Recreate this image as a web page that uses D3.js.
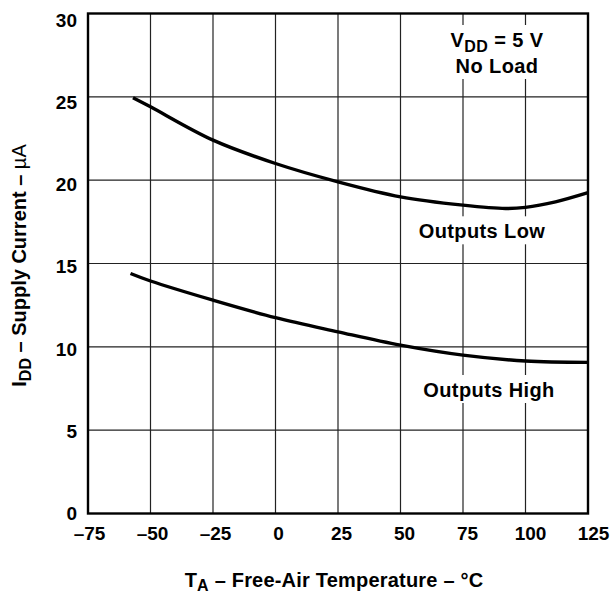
<!DOCTYPE html>
<html>
<head>
<meta charset="utf-8">
<script src="https://cdn.jsdelivr.net/npm/d3@7"></script>
<style>
	html, body { margin: 0; padding: 0; background: #fff; }
	svg { display: block; font-family: 'Liberation Sans', Arial, Helvetica, sans-serif; font-weight: bold; }
</style>
</head>
<body>
<svg width="615" height="596"></svg>
<script>
const tempTicks = [-75, -50, -25, 0, 25, 50, 75, 100, 125];
const currentTicks = [0, 5, 10, 15, 20, 25, 30];

// Outputs Low
const lowTemps = [-57, -50, -25, 0, 25, 50, 75, 92, 100, 112, 125];
const lowCurrent = [24.95, 24.4, 22.4, 21.0, 19.9, 19.0, 18.5, 18.3, 18.37, 18.7, 19.25];

// Outputs High
const highTemps = [-58, -50, -25, 0, 25, 50, 75, 100, 125];
const highCurrent = [14.4, 13.95, 12.8, 11.75, 10.9, 10.1, 9.5, 9.15, 9.07];

const frameColor = '#000';
const gridColor = '#222';
const curveColor = '#000';

const svg = d3.select('svg');
const margin = { top: 13.5, right: 27, bottom: 82.5, left: 88 };
const width = 615 - margin.left - margin.right;
const height = 596 - margin.top - margin.bottom;

const x = d3.scaleLinear().domain([-75, 125]).range([0, width]);
const y = d3.scaleLinear().domain([0, 30]).range([height, 0]);

// tick labels sit on a slightly wider spread than the grid itself
const xLabel = d3.scaleLinear().domain([-75, 125]).range([1, width + 5]);
const yLabel = d3.scaleLinear().domain([0, 30]).range([height, 6.5]);

const g = svg.append('g')
	.attr('transform', `translate(${margin.left},${margin.top})`);

// grid
g.append('g')
	.selectAll('line')
	.data(tempTicks)
	.enter()
		.append('line')
		.attr('x1', d => x(d))
		.attr('x2', d => x(d))
		.attr('y1', 0)
		.attr('y2', height)
		.attr('stroke', gridColor)
		.attr('stroke-width', 1.2);

g.append('g')
	.selectAll('line')
	.data(currentTicks)
	.enter()
		.append('line')
		.attr('x1', 0)
		.attr('x2', width)
		.attr('y1', d => y(d))
		.attr('y2', d => y(d))
		.attr('stroke', gridColor)
		.attr('stroke-width', 1.2);

// labels with white boxes knocking out the grid
const labelGroup = g.append('g');

const addLabel = (lines, cx, baseline, lineGap) => {
	const box = labelGroup.append('g');
	const rect = box.append('rect').attr('fill', '#fff');
	const text = box.append('text')
		.attr('text-anchor', 'middle')
		.attr('font-size', 20)
		.attr('letter-spacing', 0.4)
		.attr('fill', '#000');
	lines.forEach((line, i) => {
		const t = text.append('tspan')
			.attr('x', cx)
			.attr('y', baseline + i * lineGap);
		line.forEach((part) => {
			const s = t.append('tspan').text(part.text);
			if (part.sub) {
				s.attr('font-size', 16).attr('dy', 5);
			} else if (part.after) {
				s.attr('dy', -5);
			}
		});
	});
	const bb = text.node().getBBox();
	rect
		.attr('x', bb.x - 8)
		.attr('y', bb.y - 4)
		.attr('width', bb.width + 16)
		.attr('height', bb.height + 6);
};

addLabel([
	[{ text: 'V' }, { text: 'DD', sub: true }, { text: ' = 5 V', after: true }],
	[{ text: 'No Load' }],
], 409, 33.5, 26);

addLabel([[{ text: 'Outputs Low' }]], 394, 224.8, 0);
addLabel([[{ text: 'Outputs High' }]], 401, 383.5, 0);

// curves
const line = d3.line()
	.x(d => x(d[0]))
	.y(d => y(d[1]))
	.curve(d3.curveCatmullRom.alpha(0.5));

const lowData = lowTemps.map((t, i) => [t, lowCurrent[i]]);
const highData = highTemps.map((t, i) => [t, highCurrent[i]]);

g.append('path')
	.datum(lowData)
	.attr('d', line)
	.attr('fill', 'none')
	.attr('stroke', curveColor)
	.attr('stroke-width', 3.4);

g.append('path')
	.datum(highData)
	.attr('d', line)
	.attr('fill', 'none')
	.attr('stroke', curveColor)
	.attr('stroke-width', 3.4);

// frame
g.append('rect')
	.attr('x', 0)
	.attr('y', 0)
	.attr('width', width)
	.attr('height', height)
	.attr('fill', 'none')
	.attr('stroke', frameColor)
	.attr('stroke-width', 2.4);

// tick labels
const fmt = d => (d < 0 ? '\u2013' + Math.abs(d) : String(d));

const xAxis = g.append('g')
	.call(d3.axisBottom(xLabel).tickValues(tempTicks).tickSize(0).tickPadding(13).tickFormat(fmt))
	.attr('transform', `translate(0,${height})`)
	.attr('font-family', null)
	.attr('font-size', 19);
xAxis.select('.domain').remove();
xAxis.selectAll('text').attr('fill', '#000');

const yAxis = g.append('g')
	.call(d3.axisLeft(yLabel).tickValues(currentTicks).tickSize(0).tickPadding(11))
	.attr('font-family', null)
	.attr('font-size', 19);
yAxis.select('.domain').remove();
yAxis.selectAll('text').attr('fill', '#000');

// axis titles
const xTitle = svg.append('text')
	.attr('x', 334)
	.attr('y', 587)
	.attr('text-anchor', 'middle')
	.attr('font-size', 20)
	.attr('letter-spacing', 0.2)
	.attr('fill', '#000');
xTitle.append('tspan').text('T');
xTitle.append('tspan').text('A').attr('font-size', 16).attr('dy', 4);
xTitle.append('tspan').text(' \u2013 Free-Air Temperature \u2013 \u00B0C').attr('dy', -4);

const yTitle = svg.append('text')
	.attr('transform', `translate(26,${margin.top + height / 2 + 2}) rotate(-90)`)
	.attr('text-anchor', 'middle')
	.attr('font-size', 20)
	.attr('fill', '#000');
yTitle.append('tspan').text('I');
yTitle.append('tspan').text('DD').attr('font-size', 16).attr('dy', 5);
yTitle.append('tspan').text(' \u2013 Supply Current \u2013 ').attr('dy', -5);
yTitle.append('tspan').text('\u00B5A').attr('font-weight', 'normal');
</script>
</body>
</html>
